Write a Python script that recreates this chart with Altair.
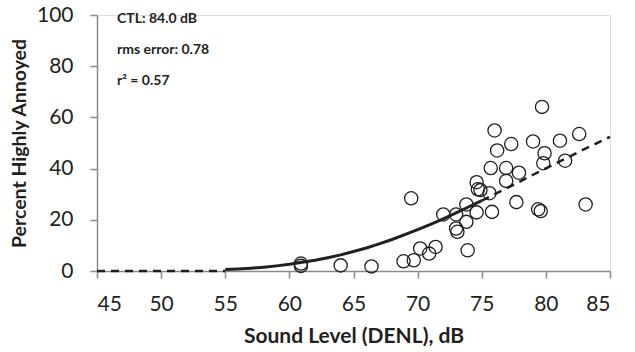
import altair as alt
import pandas as pd

# Observed community data (sound level dB, percent highly annoyed)
level_db = [79.7, 76.0, 76.2, 77.3, 79.0, 81.1, 79.9, 79.8, 82.6, 81.5,
            75.7, 76.9, 77.9, 76.9, 74.6, 74.7, 74.9, 75.6, 73.8, 77.7,
            79.4, 79.6, 75.8, 74.6, 73.0, 72.0, 73.8, 73.0, 73.1, 69.5,
            73.9, 71.4, 70.2, 70.9, 69.7, 68.9, 66.4, 64.0, 60.9, 60.9,
            83.1]
pct_ha = [64.1, 54.9, 47.1, 49.6, 50.6, 50.9, 46.0, 42.1, 53.5, 43.1,
          40.2, 40.2, 38.4, 35.2, 34.7, 31.9, 31.6, 30.4, 26.0, 26.9,
          24.1, 23.4, 23.1, 22.9, 22.1, 22.1, 19.2, 16.6, 15.3, 28.4,
          8.1, 9.4, 8.8, 6.8, 4.2, 3.8, 1.8, 2.2, 2.9, 2.0,
          26.0]

# Fitted dose-response curve, read at 1 dB steps
curve_db = [55, 56, 57, 58, 59, 60, 61, 62, 63, 64, 65, 66, 67, 68, 69, 70,
            71, 72, 73, 74, 75, 76, 77, 78, 79, 80, 81, 82, 83, 84, 85]
curve_pct = [0.6, 0.8, 1.1, 1.5, 2.0, 2.6, 3.4, 4.2, 5.2, 6.3, 7.6, 9.0,
             10.6, 12.3, 14.2, 16.2, 18.2, 20.4, 22.7, 25.1, 27.5, 30.0,
             32.5, 35.0, 37.6, 40.1, 42.6, 45.1, 47.6, 50.0, 52.4]
solid_until_db = 75
floor_db = [45, 55]
floor_pct = [0, 0]

x_ticks = [45, 50, 55, 60, 65, 70, 75, 80, 85]
y_ticks = [0, 20, 40, 60, 80, 100]
notes = ["CTL: 84.0 dB", "rms error: 0.78", "r\u00b2 = 0.57"]

INK = "#231f20"
AXIS = "#8a8a8a"
FONT = "Lato"

pts = pd.DataFrame({"db": level_db, "ha": pct_ha})
curve = pd.DataFrame({"db": curve_db, "ha": curve_pct})
solid = curve[curve["db"] <= solid_until_db]
dashed = curve[curve["db"] >= solid_until_db]
floor = pd.DataFrame({"db": floor_db, "ha": floor_pct})

xs = alt.Scale(domain=[45, 85], nice=False, zero=False)
ys = alt.Scale(domain=[0, 100], nice=False)

xaxis = alt.Axis(values=x_ticks, grid=False, domainColor=AXIS, tickColor=AXIS,
                 tickSize=7, domainWidth=1.5, tickWidth=1.5,
                 labelFont=FONT, labelFontSize=21, labelColor=INK, labelPadding=15,
                 title="Sound Level (DENL), dB", titleFont=FONT, titleFontSize=21,
                 titleFontWeight="bold", titleColor=INK, titlePadding=11)
yaxis = alt.Axis(values=y_ticks, grid=False, domainColor=AXIS, tickColor=AXIS,
                 tickSize=7, domainWidth=1.5, tickWidth=1.5,
                 labelFont=FONT, labelFontSize=21, labelColor=INK, labelPadding=17,
                 title="Percent Highly Annoyed", titleFont=FONT, titleFontSize=19.5,
                 titleFontWeight="bold", titleColor=INK, titlePadding=7)

base_pts = alt.Chart(pts).mark_point(shape="circle", filled=False, size=175,
                                      color=INK, strokeWidth=1.3, opacity=1).encode(
    x=alt.X("db:Q", scale=xs, axis=xaxis),
    y=alt.Y("ha:Q", scale=ys, axis=yaxis),
)

solid_line = alt.Chart(solid).mark_line(color=INK, strokeWidth=3).encode(
    x=alt.X("db:Q", scale=xs), y=alt.Y("ha:Q", scale=ys))
dash_line = alt.Chart(dashed).mark_line(color=INK, strokeWidth=2.5,
                                         strokeDash=[8, 6]).encode(
    x=alt.X("db:Q", scale=xs), y=alt.Y("ha:Q", scale=ys))
floor_line = alt.Chart(floor).mark_line(color=INK, strokeWidth=2.5,
                                         strokeDash=[8, 6]).encode(
    x=alt.X("db:Q", scale=xs), y=alt.Y("ha:Q", scale=ys))

note = alt.Chart(pd.DataFrame({"t": ["\n".join(notes)]})).mark_text(
    align="left", baseline="middle", font=FONT, fontSize=14, fontWeight="bold",
    color=INK, lineBreak="\n", lineHeight=31).encode(
    text="t:N", x=alt.value(20), y=alt.value(4))

chart = alt.layer(base_pts, solid_line, dash_line, floor_line, note).properties(
    width=513, height=256,
    autosize=alt.AutoSizeParams(type="none"),
    padding={"left": 97, "top": 15, "right": 25, "bottom": 81},
).configure_view(stroke=None).configure(background="white")

chart.save("out.html", embed_options={"renderer": "svg", "actions": False})
